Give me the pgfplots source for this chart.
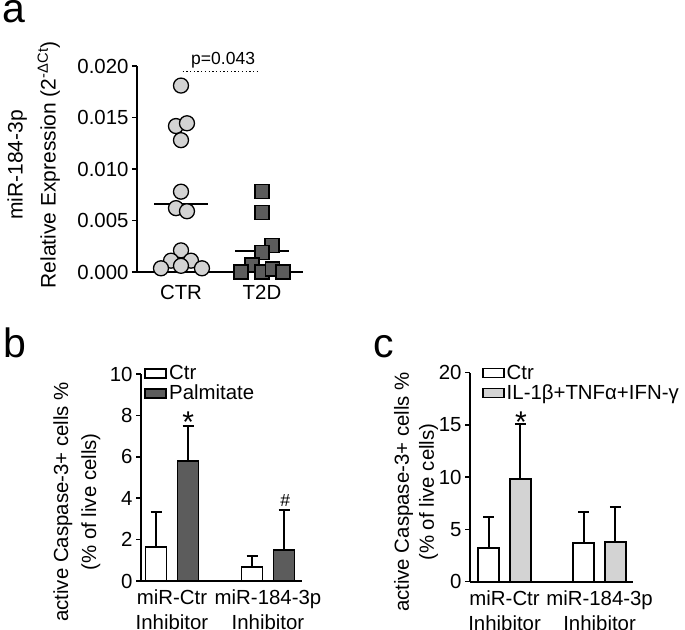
\documentclass[border=0pt]{standalone}
\usepackage{fontspec}
\setmainfont{Liberation Sans}
\usepackage{pgfplots}
\pgfplotsset{compat=1.18}

\definecolor{lightg}{RGB}{211,211,211}
\definecolor{darkg}{RGB}{92,92,92}
\newcommand\fs{\fontsize{20.4}{25}\selectfont}

\pgfplotsset{
  common/.style={
    scale only axis,
    axis lines=left,
    axis line style={-, line width=2pt, black},
    tick align=outside,
    ytick pos=left,
    major tick length=5pt,
    tick style={black, line width=1.5pt},
    xtick style={draw=none},
    tick label style={font=\fs},
    /pgf/number format/assume math mode=true,
    clip=false,
    label style={font=\fs},
    legend cell align=left,
  },
  boxleg/.style={legend image code/.code={\draw[##1, line width=1.8pt] (0pt,-4.5pt) rectangle (21pt,4.5pt);}},
  mybar/.style={ybar, bar width=21pt, bar shift=0pt, draw=black, line width=1.8pt, boxleg,
    error bars/y dir=plus, error bars/y explicit,
    error bars/error bar style={line width=2.2pt, black, solid},
    error bars/error mark=|,
    error bars/error mark options={black, line width=2.2pt, mark size=5.5pt}},
}

\begin{document}
\begin{tikzpicture}
\useasboundingbox (0,0) rectangle (685pt,-629pt);

% ---------------- panel a ----------------
\begin{axis}[common,
  at={(137pt,-272pt)}, anchor=south west, width=166pt, height=206pt,
  xmin=0.457, xmax=2.506, ymin=0, ymax=0.02,
  xtick={1,2}, xticklabels={CTR,T2D},
  xticklabel style={yshift=-5pt},
  ytick={0,0.005,0.01,0.015,0.02},
  scaled y ticks=false,
  yticklabel style={/pgf/number format/.cd, fixed, fixed zerofill, precision=3},
  ylabel={miR-184-3p\\Relative Expression (2\textsuperscript{-ΔCt})},
  ylabel style={align=center, font=\fontsize{21}{33}\selectfont,
    at={(axis description cs:-0.623,0.52)}, anchor=center},
]
\addplot[only marks, mark=*, mark size=7.5pt,
  mark options={fill=lightg, draw=black, line width=1.3pt}] coordinates {
  (1,0.0181) (0.938,0.01417) (1.074,0.01444) (1,0.0128)
  (1,0.0078) (0.938,0.0062) (1.074,0.0059)
  (1,0.0021) (0.877,0.0011) (1.123,0.0011)
  (0.753,0.00036) (1,0.0006) (1.259,0.00036)};
\addplot[only marks, mark=square*, mark size=7pt,
  mark options={fill=darkg, draw=black, line width=1.3pt}] coordinates {
  (2,0.0078) (2,0.00576) (2.123,0.0026) (2,0.0019)
  (1.877,0.00068) (1.74,0) (2,0) (2.13,0.0003) (2.26,0)};
\addplot[black, line width=2pt] coordinates {(0.67,0.0066) (1.33,0.0066)};
\addplot[black, line width=2pt] coordinates {(1.67,0.00207) (2.33,0.00207)};
\addplot[black, line width=1.5pt, dash pattern=on 1.3pt off 2.4pt] coordinates {(1.021,0.01945) (1.963,0.01945)};
\node[font=\fontsize{17.5}{20}\selectfont, anchor=base] at (axis cs:1.52,0.0201) {p=0.043};
\end{axis}

% ---------------- panel b ----------------
\begin{axis}[common,
  at={(141pt,-581pt)}, anchor=south west, width=160.7pt, height=207pt,
  xmin=-0.323, xmax=1.351, ymin=0, ymax=10,
  ytick={0,2,...,10},
  xtick={0,1}, xticklabels={{miR-Ctr\\Inhibitor},{miR-184-3p\\Inhibitor}},
  xticklabel style={align=center, font=\fs},
  ylabel={active Caspase-3+ cells \%\\(\% of live cells)},
  ylabel style={align=center, font=\fontsize{20.4}{28}\selectfont,
    at={(axis description cs:-0.40,0.382)}, anchor=center},
  legend style={at={(axis description cs:0.02,1.052)}, anchor=north west,
    draw=none, fill=none, font=\fs, inner sep=0pt, row sep=0pt},
]
\addplot[mybar, fill=white]
  coordinates {(-0.1667,1.66) +- (0,1.69) (0.8333,0.66) +- (0,0.56)};
\addplot[mybar, fill=darkg]
  coordinates {(0.1667,5.81) +- (0,1.68) (1.1667,1.50) +- (0,1.93)};
\legend{Ctr,Palmitate}
\node[font=\fontsize{30}{30}\selectfont, anchor=base] at (axis cs:0.17,7.18) {*};
\node[font=\fontsize{17.5}{20}\selectfont, anchor=base] at (axis cs:1.18,3.6) {\#};
\end{axis}

% ---------------- panel c ----------------
\begin{axis}[common,
  at={(470pt,-581.7pt)}, anchor=south west, width=163pt, height=209pt,
  xmin=-0.364, xmax=1.352, ymin=0, ymax=20,
  ytick={0,5,...,20},
  xtick={0,1}, xticklabels={{miR-Ctr\\Inhibitor},{miR-184-3p\\Inhibitor}},
  xticklabel style={align=center, font=\fs},
  ylabel={active Caspase-3+ cells \%\\(\% of live cells)},
  ylabel style={align=center, font=\fontsize{20.4}{25}\selectfont,
    at={(axis description cs:-0.330,0.429)}, anchor=center},
  legend style={at={(axis description cs:0.072,1.047)}, anchor=north west,
    draw=none, fill=none, font=\fs, inner sep=0pt, row sep=0pt},
]
\addplot[mybar, fill=white]
  coordinates {(-0.1663,3.2) +- (0,3.02) (0.8337,3.67) +- (0,3.03)};
\addplot[mybar, fill=lightg]
  coordinates {(0.1663,9.83) +- (0,5.23) (1.1663,3.83) +- (0,3.29)};
\legend{Ctr,IL-1β+TNFα+IFN-γ}
\node[font=\fontsize{30}{30}\selectfont, anchor=base] at (axis cs:0.173,14.25) {*};
\end{axis}

% panel letters
\node[font=\fontsize{41}{41}\selectfont, anchor=base west, inner sep=0pt] at (2pt,-23pt) {a};
\node[font=\fontsize{41}{41}\selectfont, anchor=base west, inner sep=0pt] at (3pt,-357pt) {b};
\node[font=\fontsize{41}{41}\selectfont, anchor=base west, inner sep=0pt] at (373pt,-357pt) {c};
\end{tikzpicture}
\end{document}
